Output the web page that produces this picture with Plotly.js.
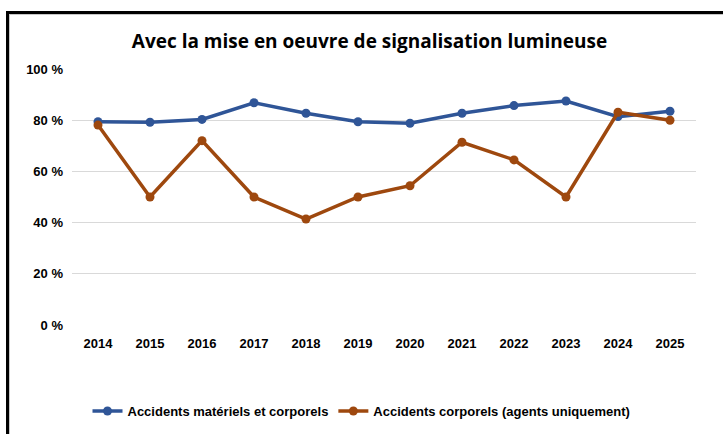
<!DOCTYPE html>
<html>
<head>
<meta charset="utf-8">
<script src="https://cdn.plot.ly/plotly-3.0.1.min.js"></script>
<style>
  html, body { margin: 0; padding: 0; background: #fff; }
  #wrap { position: relative; width: 723px; height: 434px; overflow: hidden; }
  #chart { position: absolute; left: 0; top: 0; width: 723px; height: 434px; }
  #frame {
    position: absolute; left: 6px; top: 11px; width: 760px; height: 480px;
    border-left: 3px solid #000; border-top: 3px solid #000;
    box-shadow: inset 1px 1px 0 #c8c8c8; pointer-events: none;
  }
</style>
</head>
<body>
<div id="wrap">
  <div id="chart"></div>
  <div id="frame"></div>
</div>
<script>
// ---------------------------------------------------
// Data
// ---------------------------------------------------
const years = ["2014", "2015", "2016", "2017", "2018", "2019", "2020", "2021", "2022", "2023", "2024", "2025"];
const materielsCorporels = [79.4, 79.2, 80.3, 86.8, 82.7, 79.4, 78.8, 82.7, 85.7, 87.5, 81.4, 83.5];
const corporelsAgents = [78.1, 50.0, 72.0, 50.0, 41.4, 50.0, 54.4, 71.4, 64.5, 50.0, 83.1, 80.0];
const yTicks = [0, 20, 40, 60, 80, 100];

const BLUE = "#2f5597";
const ORANGE = "#9e480e";
const FONT = "Liberation Sans, Arial, sans-serif";
const NARROW = "Liberation Sans Narrow, Arial Narrow, sans-serif";

// ---------------------------------------------------
// Plotting
// ---------------------------------------------------
const makeTrace = (y, name, color) => ({
  x: years,
  y: y,
  name: name,
  type: "scatter",
  mode: "lines+markers",
  line: { color: color, width: 3.5 },
  marker: { color: color, size: 9 },
});

const traces = [
  makeTrace(materielsCorporels, "Accidents matériels et corporels", BLUE),
  makeTrace(corporelsAgents, "Accidents corporels (agents uniquement)", ORANGE),
];

const layout = {
  width: 723,
  height: 434,
  margin: { l: 72, r: 27, t: 69, b: 109, pad: 0 },
  paper_bgcolor: "#fff",
  plot_bgcolor: "#fff",
  font: { family: FONT, size: 12, color: "#000" },
  title: {
    text: "<b>Avec la mise en oeuvre de signalisation lumineuse</b>",
    font: { family: "Open Sans, sans-serif", size: 19, color: "#000" },
    x: 0.511,
    xanchor: "center",
    y: 0.905,
    yanchor: "middle",
  },
  xaxis: {
    type: "category",
    range: [-0.5, 11.5],
    showgrid: false,
    showline: false,
    zeroline: false,
    ticks: "",
    tickfont: { family: FONT, size: 13, color: "#000", weight: "bold" },
    ticklabelstandoff: 9,
  },
  yaxis: {
    range: [0, 100],
    tickvals: yTicks,
    ticktext: yTicks.map((v) => v + " %"),
    showgrid: true,
    gridcolor: "#d9d9d9",
    gridwidth: 1.3,
    zeroline: false,
    showline: false,
    ticks: "",
    tickfont: { family: FONT, size: 13, color: "#000", weight: "bold" },
    ticklabelstandoff: 8,
  },
  showlegend: true,
  legend: {
    orientation: "h",
    xref: "container",
    yref: "container",
    x: 0.5,
    xanchor: "center",
    y: 0.053,
    yanchor: "middle",
    font: { family: NARROW, size: 13, color: "#000", weight: "bold" },
    itemwidth: 30,
    tracegroupgap: 0,
  },
};

Plotly.newPlot("chart", traces, layout, { displayModeBar: false, staticPlot: true });
</script>
</body>
</html>
